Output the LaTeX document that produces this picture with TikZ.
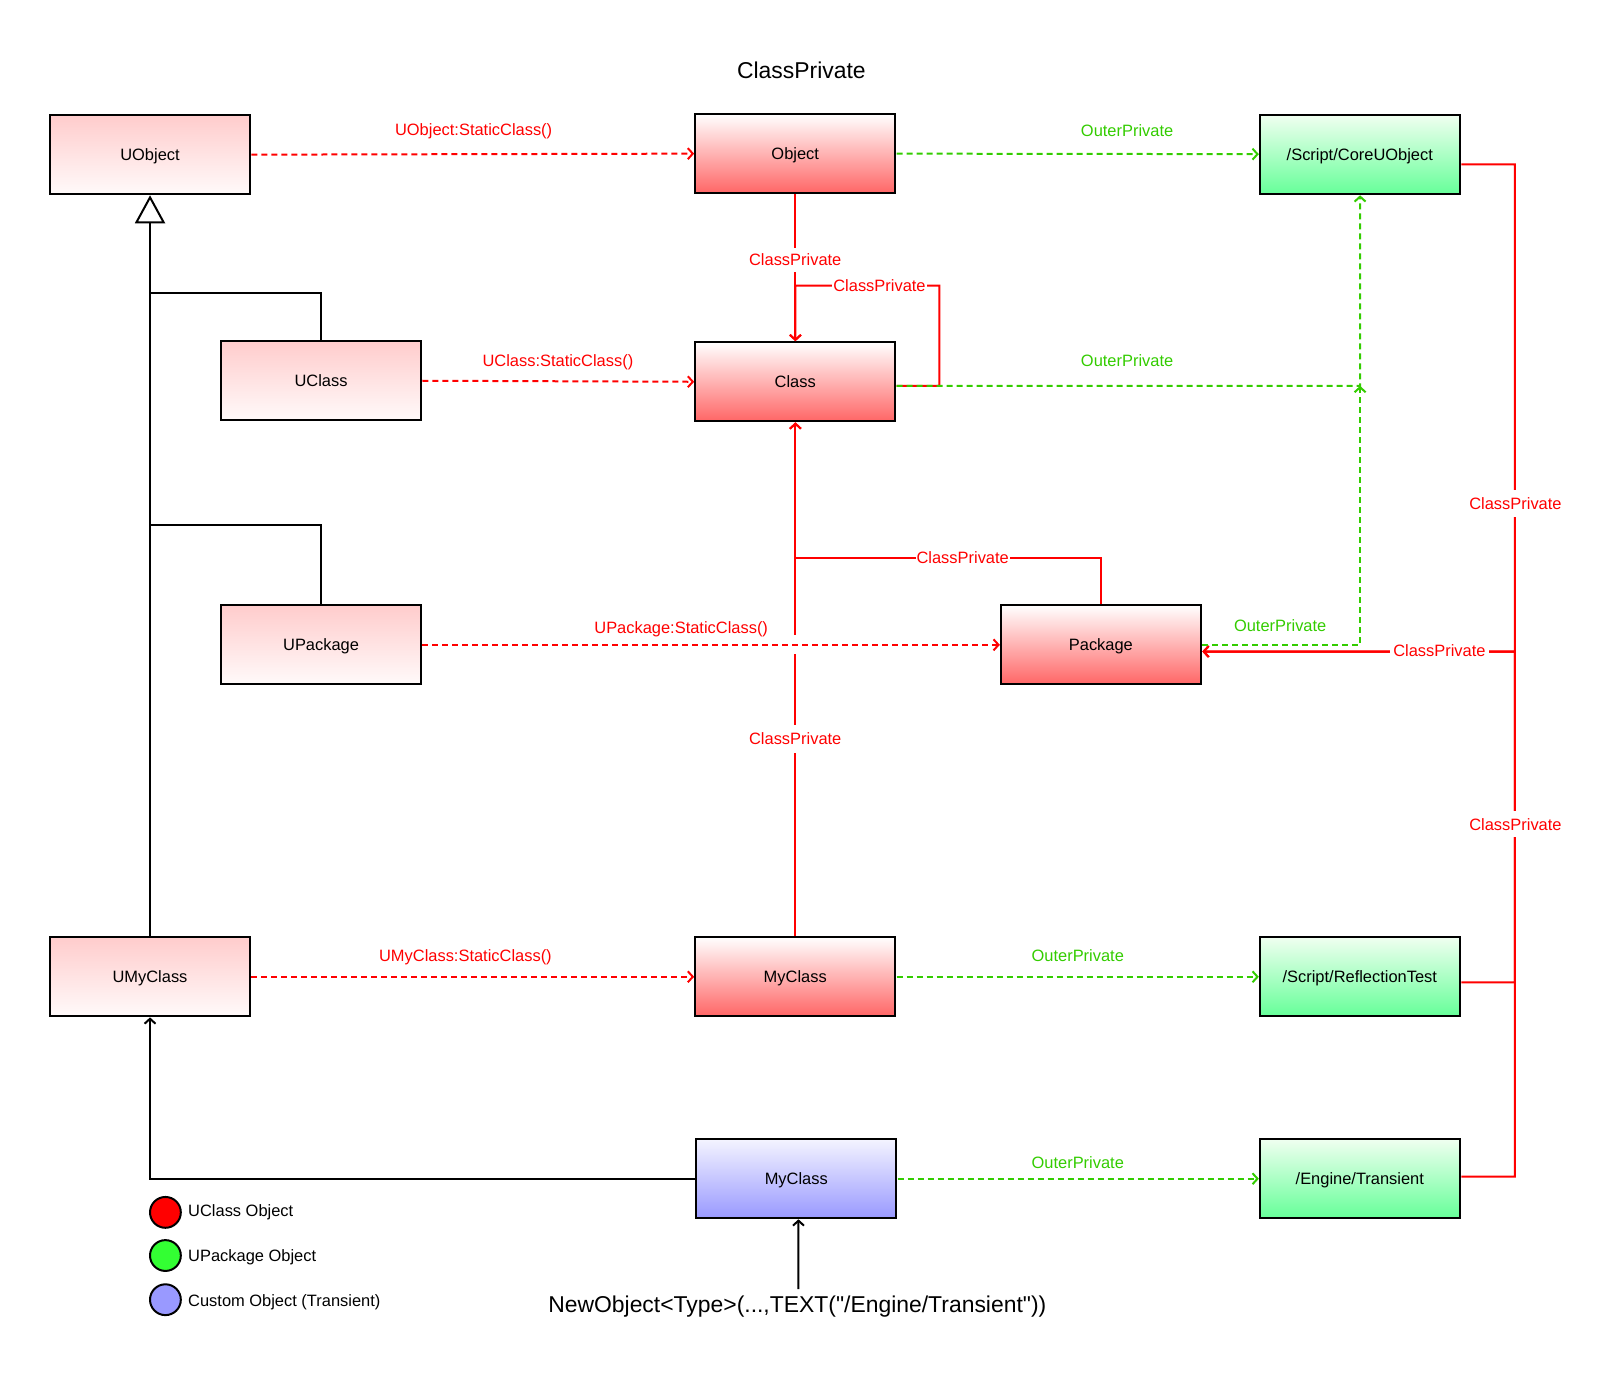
\documentclass[tikz,border=0pt]{standalone}
\usepackage{fontspec}
\setmainfont{Liberation Sans}[Ligatures=TeXOff]
\usetikzlibrary{arrows.meta}
\definecolor{cpred}{HTML}{FF0000}
\definecolor{cpgreen}{HTML}{33CC00}
\definecolor{pinktop}{HTML}{FFCCCC}
\definecolor{pinkbot}{HTML}{FFFAFA}
\definecolor{redtop}{HTML}{FFFFFF}
\definecolor{redbot}{HTML}{FF6666}
\definecolor{greentop}{HTML}{F0FFF0}
\definecolor{greenbot}{HTML}{66FF99}
\definecolor{bluetop}{HTML}{F4F4FF}
\definecolor{bluebot}{HTML}{9999FF}
\definecolor{legred}{HTML}{FF0000}
\definecolor{leggreen}{HTML}{33FF33}
\definecolor{legblue}{HTML}{9999FF}
\newcommand\fsa{\fontsize{16pt}{19pt}\selectfont}
\newcommand\fsb{\fontsize{22.3pt}{26pt}\selectfont}
\tikzset{
  box/.style={draw=black, line width=2pt, minimum width=195pt, minimum height=77pt, inner sep=0pt, font=\fsa, text height=11.7pt, text depth=0pt},
  pinkbox/.style={box, top color=pinktop, bottom color=pinkbot},
  redbox/.style={box, top color=redtop, bottom color=redbot},
  greenbox/.style={box, top color=greentop, bottom color=greenbot},
  bluebox/.style={box, top color=bluetop, bottom color=bluebot},
  openarrow/.style={-{Straight Barb[length=5pt,width=11pt]}},
  redline/.style={draw=cpred, line width=2pt},
  greenline/.style={draw=cpgreen, line width=2pt},
  blackline/.style={draw=black, line width=2pt},
  dashline/.style={dash pattern=on 6pt off 4pt},
  lab/.style={font=\fsa, inner xsep=3pt, inner ysep=5pt, text height=11.7pt, text depth=0pt},
  redlab/.style={lab, text=cpred, fill=white},
  greenlab/.style={lab, text=cpgreen},
  legtext/.style={font=\fsa, anchor=west, inner sep=0pt, text height=11.7pt, text depth=0pt},
  legdot/.style={circle, draw=black, line width=2pt, minimum size=30pt, inner sep=0pt},
}
\begin{document}
\begin{tikzpicture}[x=1pt,y=-1pt,scale=1.0274,transform shape]
\useasboundingbox (0,0) rectangle (1568,1337.3);

% title
\node[font=\fsb] (title) at (780,68) {ClassPrivate};

% boxes
\node[pinkbox] (uobject) at (146,150.5) {UObject};
\node[redbox] (object) at (774,149.5) {Object};
\node[greenbox] (core) at (1323.5,150.5) {/Script/CoreUObject};
\node[pinkbox] (uclass) at (312.5,370.5) {UClass};
\node[redbox] (class) at (774,371.5) {Class};
\node[pinkbox] (upackage) at (312.5,627.5) {UPackage};
\node[redbox] (package) at (1071.5,627.5) {Package};
\node[pinkbox] (umyclass) at (146,950.5) {UMyClass};
\node[redbox] (myclass) at (774,950.5) {MyClass};
\node[greenbox] (refl) at (1323.5,950.5) {/Script/ReflectionTest};
\node[bluebox] (tmyclass) at (775,1147) {MyClass};
\node[greenbox] (transient) at (1323.5,1147) {/Engine/Transient};

% helper coordinates
\coordinate (gj) at (1323.5,375.5);
\coordinate (loopa) at (914,375.5);
\coordinate (loopb) at (914,278);
\coordinate (loopc) at (774,278);
\coordinate (pj) at (774,543);
\coordinate (ih1) at (146,285);
\coordinate (ih2) at (146,511);
\coordinate (rx1) at (1474,160);
\coordinate (rx2) at (1474,956);
\coordinate (rx3) at (1474,1145);
\coordinate (rj) at (1474,634);

% inheritance
\draw[blackline] (uclass.north) |- (ih1);
\draw[blackline] (upackage.north) |- (ih2);
\draw[blackline, -{Triangle[length=28pt,width=30pt,fill=white,line width=2pt]}] (umyclass.north) -- (uobject.south);

% black transient link
\draw[blackline, openarrow] (tmyclass.west) -| (umyclass.south);

% ClassPrivate red links
\draw[redline, openarrow] (object.south) -- (class.north);
\draw[redline, openarrow] ([yshift=-4pt]class.east) -- (loopa) -- (loopb) -- (loopc) -- (class.north);
\draw[redline] (package.north) |- (pj);
\draw[redline, openarrow] (pj) -- (class.south);
\draw[redline, openarrow] (myclass.north) -- (class.south);
\fill[white] (768,618) rectangle (780,637);

\draw[redline, openarrow] ([yshift=-9.5pt]core.east) -- (rx1) -- (rj) -- ([yshift=-6.5pt]package.east);
\draw[redline, openarrow] ([yshift=-5.5pt]refl.east) -- (rx2) -- (rj) -- ([yshift=-6.5pt]package.east);
\draw[redline, openarrow] ([yshift=2pt]transient.east) -- (rx3) -- (rj) -- ([yshift=-6.5pt]package.east);

% StaticClass dashed red links
\draw[redline, dashline, openarrow] (uobject.east) -- (object.west);
\draw[redline, dashline, openarrow] (uclass.east) -- (class.west);
\draw[redline, dashline, openarrow] (upackage.east) -- (package.west);
\draw[redline, dashline, openarrow] (umyclass.east) -- (myclass.west);

% OuterPrivate green links
\draw[greenline, dashline, openarrow] (object.east) -- ([yshift=0.5pt]core.west);
\draw[greenline, dashline, openarrow] ([yshift=-4pt]class.east) -- (gj) -- (core.south);
\draw[greenline, dashline, openarrow] (package.east) -| (gj);
\draw[greenline, dashline, openarrow] (myclass.east) -- (refl.west);
\draw[greenline, dashline, openarrow] (tmyclass.east) -- (transient.west);

% labels
\node[redlab, fill=none] (l1) at (461,126) {UObject:StaticClass()};
\node[redlab, fill=none] (l2) at (543,351) {UClass:StaticClass()};
\node[redlab, fill=none] (l3) at (663,611) {UPackage:StaticClass()};
\node[redlab, fill=none] (l4) at (453,930) {UMyClass:StaticClass()};
\node[redlab, inner ysep=6pt] (l5) at (774,253) {ClassPrivate};
\node[redlab, inner xsep=1pt] (l6) at (856,278) {ClassPrivate};
\node[redlab, inner xsep=1pt] (l7) at (937,543) {ClassPrivate};
\node[redlab, inner ysep=8pt] (l8) at (774,719) {ClassPrivate};
\node[redlab, inner ysep=7pt] (l9) at (1475,490) {ClassPrivate};
\node[redlab, inner ysep=7pt] (l10) at (1475,802) {ClassPrivate};
\node[redlab] (l11) at (1401,633) {ClassPrivate};
\node[greenlab] (g1) at (1097,127) {OuterPrivate};
\node[greenlab] (g2) at (1097,351) {OuterPrivate};
\node[greenlab] (g3) at (1246,609) {OuterPrivate};
\node[greenlab] (g4) at (1049,930) {OuterPrivate};
\node[greenlab] (g5) at (1049,1131) {OuterPrivate};

% NewObject
\node[font=\fsb, inner sep=2pt] (newobj) at (776,1272) {NewObject<Type>(...,TEXT("/Engine/Transient"))};
\draw[blackline, openarrow] ([xshift=1pt,yshift=5pt]newobj.north) -- ([xshift=2pt]tmyclass.south);

% legend
\node[legdot, fill=legred] (d1) at (161,1180) {};
\node[legdot, fill=leggreen] (d2) at (161,1222) {};
\node[legdot, fill=legblue] (d3) at (161,1265) {};
\node[legtext] (t1) at (183,1178) {UClass Object};
\node[legtext] (t2) at (183,1222) {UPackage Object};
\node[legtext] (t3) at (183,1266) {Custom Object (Transient)};
\end{tikzpicture}
\end{document}
